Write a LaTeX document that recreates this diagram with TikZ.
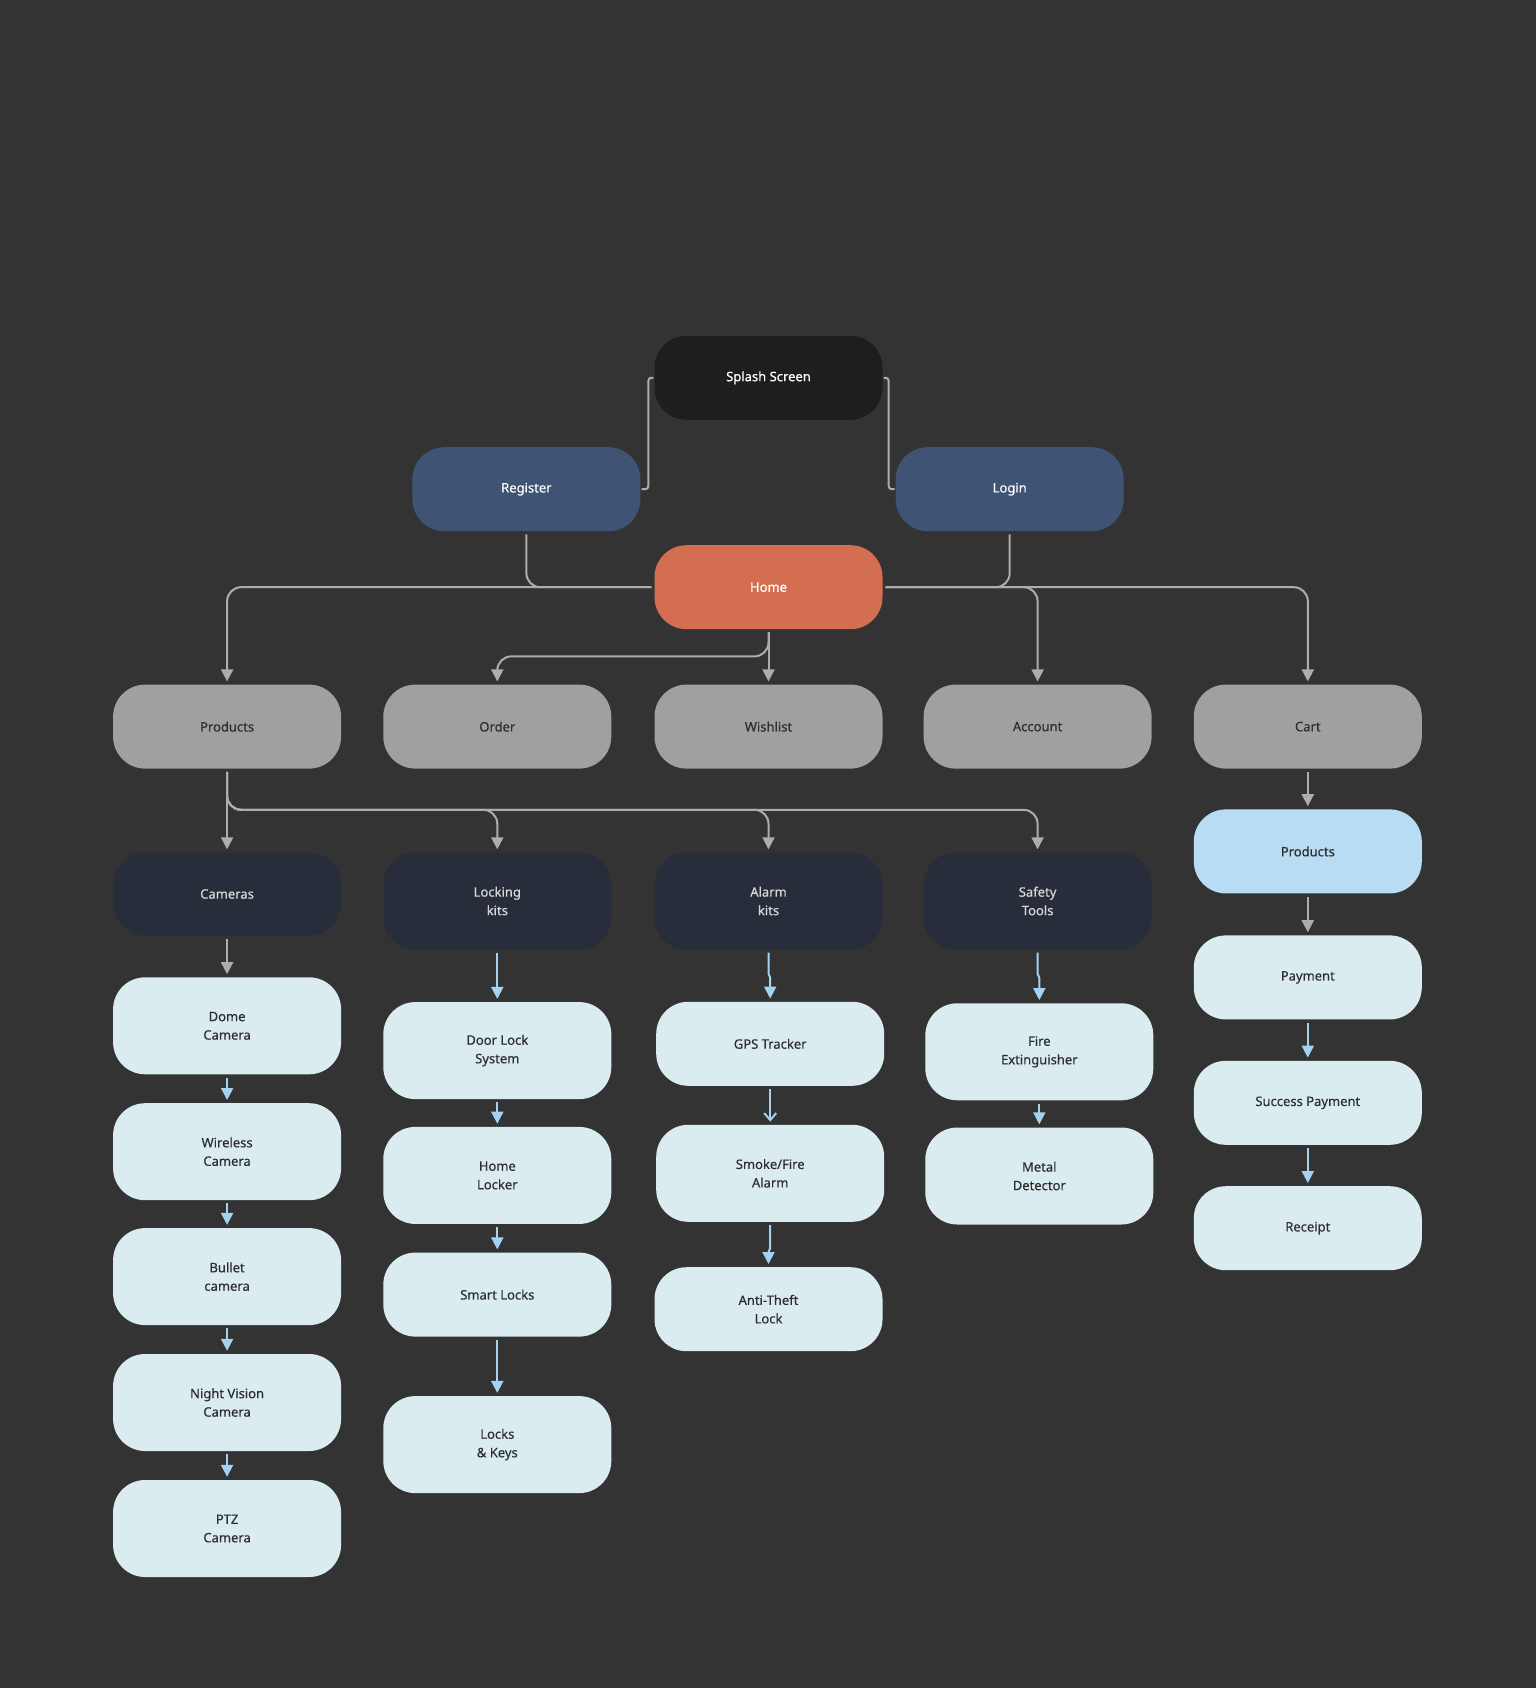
\documentclass[tikz,border=0pt]{standalone}
\usepackage{fontspec}
\setmainfont{Noto Sans}[FakeBold=0.4]
\usetikzlibrary{arrows.meta,calc}
\definecolor{bg}{HTML}{333333}
\definecolor{splashc}{HTML}{1E1E1E}
\definecolor{authc}{HTML}{3F5475}
\definecolor{homec}{HTML}{D46E51}
\definecolor{grayc}{HTML}{A0A0A0}
\definecolor{navyc}{HTML}{282D3B}
\definecolor{lightc}{HTML}{DAECEF}
\definecolor{bluec}{HTML}{B8DCF4}
\definecolor{glinec}{HTML}{ADADAD}
\definecolor{blinec}{HTML}{A6D2F2}
\definecolor{darktext}{HTML}{2E2E2E}
\definecolor{navytext}{HTML}{D8D8D8}
\begin{document}
\begin{tikzpicture}[x=1pt,y=-1pt,
  box/.style={rounded corners=32pt, minimum width=228pt, minimum height=84pt,
    inner sep=0pt, align=center, font=\fontsize{13}{18.5}\selectfont\bfseries},
  tall/.style={minimum height=97pt},
  splashbox/.style={box, fill=splashc, text=white},
  authbox/.style={box, fill=authc, text=white},
  homebox/.style={box, fill=homec, text=white},
  graybox/.style={box, fill=grayc, text=darktext},
  navybox/.style={box, fill=navyc, text=navytext},
  lightbox/.style={box, fill=lightc, text=darktext},
  bluebox/.style={box, fill=bluec, text=darktext},
  gline/.style={draw=glinec, line width=2pt, rounded corners=14pt, shorten <=3pt, shorten >=3pt},
  bline/.style={draw=blinec, line width=2pt, shorten <=3pt, shorten >=3pt},
  garrow/.style={gline, -{Triangle[width=12pt,length=12pt]}},
  barrow/.style={bline, -{Triangle[width=12pt,length=12pt]}},
  bvarrow/.style={bline, -{Straight Barb[width=12pt,length=7pt]}},
]
\fill[bg] (0,0) rectangle (1536,1688);
\useasboundingbox (0,0) rectangle (1536,1688);

% top
\node[splashbox] (splash) at (768.5,377.8) {Splash Screen};
\node[authbox] (register) at (526.4,489.2) {Register};
\node[authbox] (login) at (1009.7,489.2) {Login};
\node[homebox] (home) at (768.5,587.2) {Home};

% row 2
\node[graybox] (products) at (227.1,726.6) {Products};
\node[graybox] (order) at (497.3,726.6) {Order};
\node[graybox] (wishlist) at (768.5,726.6) {Wishlist};
\node[graybox] (account) at (1037.6,726.6) {Account};
\node[graybox] (cart) at (1307.8,726.6) {Cart};

% categories
\node[navybox, minimum height=83pt] (cameras) at (227.1,894.0) {Cameras};
\node[navybox, tall] (locking) at (497.3,901) {Locking\\kits};
\node[navybox, tall] (alarm) at (768.5,901) {Alarm\\kits};
\node[navybox, tall] (safety) at (1037.6,901) {Safety\\Tools};

% cart column
\node[bluebox] (cprod) at (1307.8,851.4) {Products};
\node[lightbox] (payment) at (1307.8,977.4) {Payment};
\node[lightbox] (success) at (1307.8,1102.8) {Success Payment};
\node[lightbox] (receipt) at (1307.8,1228.2) {Receipt};

% cameras column
\node[lightbox, tall] (dome) at (227.1,1025.8) {Dome\\Camera};
\node[lightbox, tall] (wireless) at (227.1,1151.7) {Wireless\\Camera};
\node[lightbox, tall] (bullet) at (227.1,1276.6) {Bullet\\camera};
\node[lightbox, tall] (night) at (227.1,1402.5) {Night Vision\\Camera};
\node[lightbox, tall] (ptz) at (227.1,1528.5) {PTZ\\Camera};

% locking column
\node[lightbox, tall] (door) at (497.3,1050.6) {Door Lock\\System};
\node[lightbox, tall] (hlocker) at (497.3,1175.4) {Home\\Locker};
\node[lightbox] (smart) at (497.3,1294.6) {Smart Locks};
\node[lightbox, tall] (keys) at (497.3,1444.6) {Locks\\\& Keys};

% alarm column
\node[lightbox] (gps) at (770.2,1043.8) {GPS Tracker};
\node[lightbox, tall] (smoke) at (770.2,1173.3) {Smoke/Fire\\Alarm};
\node[lightbox] (anti) at (768.5,1309.2) {Anti-Theft\\Lock};

% safety column
\node[lightbox, tall] (fire) at (1039.3,1051.8) {Fire\\Extinguisher};
\node[lightbox, tall] (metal) at (1039.3,1176) {Metal\\Detector};

% connectors: splash
\draw[gline, rounded corners=3pt, shorten <=1pt, shorten >=1pt] (splash.west) -- ([xshift=-6pt]splash.west) |- (register.east);
\draw[gline, rounded corners=3pt, shorten <=1pt, shorten >=1pt] (splash.east) -- ([xshift=6pt]splash.east) |- (login.west);

% register / login to home
\draw[gline] (register.south) |- (home.west);
\draw[gline] (login.south) |- (home.east);

% home to row 2
\draw[garrow] (home.west) -| (products.north);
\draw[garrow] (home.east) -| (account.north);
\draw[garrow] (home.east) -| (cart.north);
\draw[garrow] (home.south) -- (wishlist.north);
\draw[garrow] (home.south) -- ++(0,27) -| (order.north);

% products to categories
\draw[garrow] (products.south) -- (cameras.north);
\draw[garrow] (products.south) -- ++(0,41) -| (locking.north);
\draw[garrow] (products.south) -- ++(0,41) -| (alarm.north);
\draw[garrow] (products.south) -- ++(0,41) -| (safety.north);

% cart column
\draw[garrow] (cart.south) -- (cprod.north);
\draw[garrow] (cprod.south) -- (payment.north);
\draw[barrow] (payment.south) -- (success.north);
\draw[barrow] (success.south) -- (receipt.north);

% cameras column
\draw[garrow] (cameras.south) -- (dome.north);
\draw[barrow] (dome.south) -- (wireless.north);
\draw[barrow] (wireless.south) -- (bullet.north);
\draw[barrow] (bullet.south) -- (night.north);
\draw[barrow] (night.south) -- (ptz.north);

% locking column
\draw[barrow] (locking.south) -- (door.north);
\draw[barrow] (door.south) -- (hlocker.north);
\draw[barrow] (hlocker.south) -- (smart.north);
\draw[barrow] (smart.south) -- (keys.north);

% alarm column
\draw[barrow] (alarm.south) -- ++(0,24) -- ([yshift=-4pt]$(alarm.south)+(1.7,24)$) -- (gps.north);
\draw[bvarrow] (gps.south) -- (smoke.north -| gps.south);
\draw[barrow] (smoke.south) -- ++(0,26) -- ([yshift=-4pt]$(smoke.south)+(-1.7,26)$) -- (anti.north);

% safety column
\draw[barrow] (safety.south) -- ++(0,24) -- ([yshift=-4pt]$(safety.south)+(1.7,24)$) -- (fire.north);
\draw[barrow] (fire.south) -- (metal.north);
\end{tikzpicture}
\end{document}
